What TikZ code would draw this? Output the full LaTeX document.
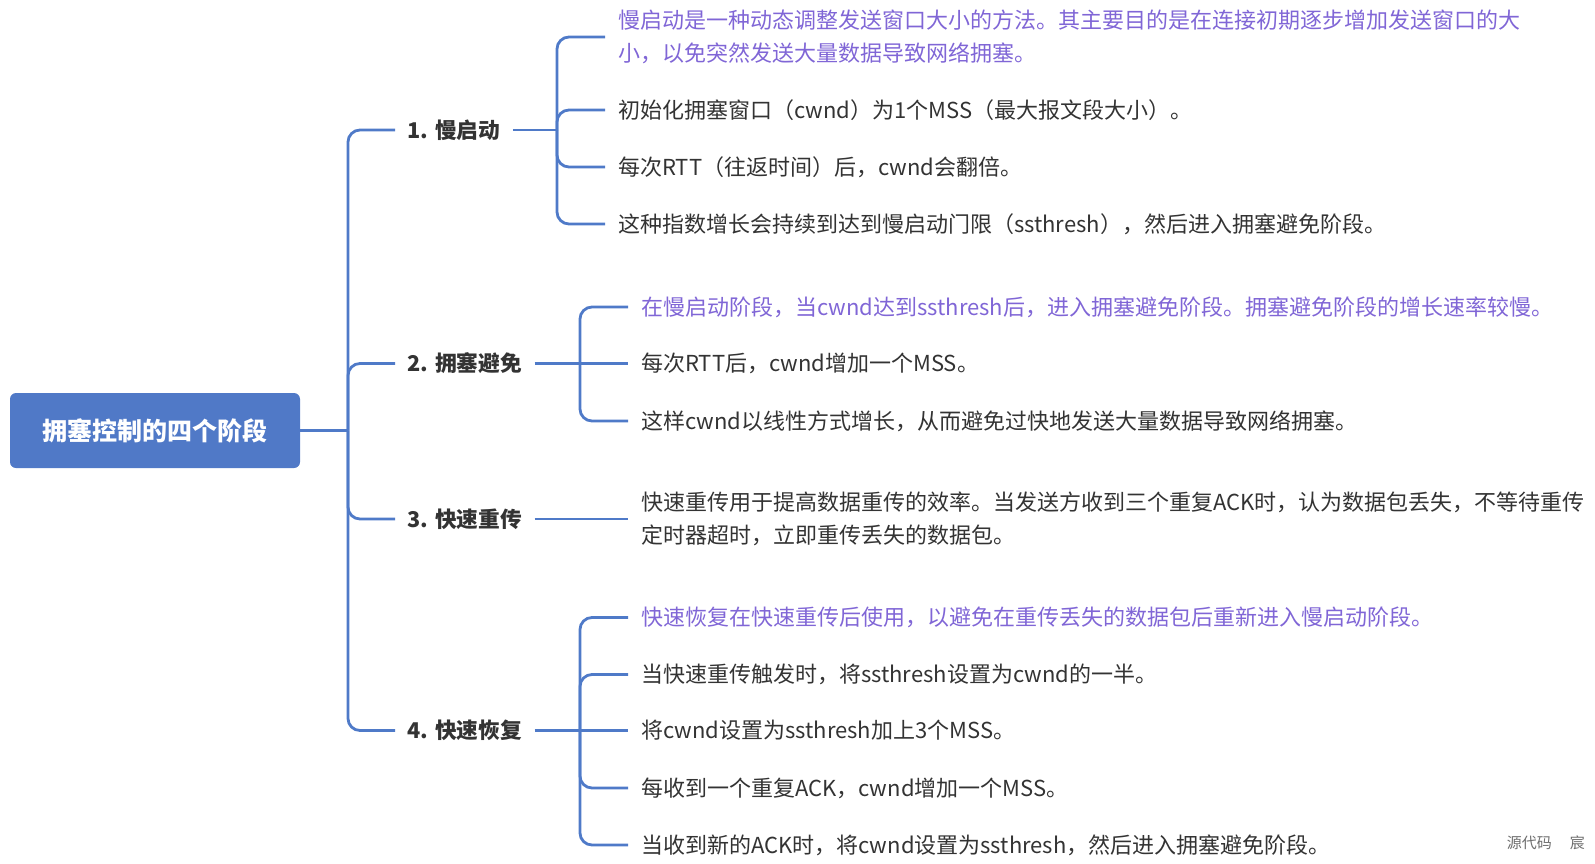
\documentclass[tikz,border=0pt]{standalone}
\usepackage{fontspec}
\setmainfont{Noto Sans CJK SC}
\definecolor{lineblue}{RGB}{79,122,200}
\definecolor{rootblue}{RGB}{80,121,199}
\definecolor{purp}{RGB}{128,102,214}
\definecolor{txt}{RGB}{51,51,51}
\definecolor{wmgray}{RGB}{110,110,110}
\begin{document}
\begin{tikzpicture}[x=1pt,y=-1pt,
  conn/.style={draw=lineblue,line width=2.8pt,rounded corners=12pt},
  rootbox/.style={fill=rootblue,rounded corners=6pt,minimum width=290pt,minimum height=75pt,text=white,font=\fontsize{25}{30}\selectfont\bfseries,inner sep=0pt},
  branch/.style={anchor=west,inner xsep=12.5pt,inner ysep=0pt,text=txt,font=\fontsize{21.7}{28}\selectfont\bfseries},
  leaf/.style={anchor=west,inner xsep=13pt,inner ysep=0pt,text=txt,align=left,font=\fontsize{22}{33}\selectfont},
  hl/.style={text=purp}]
\useasboundingbox (0,0) rectangle (1595,863);

% root
\node[rootbox] (root) at (155,430.5) {拥塞控制的四个阶段};

% junctions
\coordinate (j0) at (348,430.5);
\coordinate (j1) at (557,130);
\coordinate (j2) at (580,363.5);
\coordinate (j4) at (580,730.5);

% branches
\node[branch] (b1) at (395,130) {1. 慢启动};
\node[branch] (b2) at (395,363.5) {2. 拥塞避免};
\node[branch] (b3) at (395,519) {3. 快速重传};
\node[branch] (b4) at (395,730.5) {4. 快速恢复};

% leaves of branch 1
\node[leaf,hl] (l11) at (605,37) {慢启动是一种动态调整发送窗口大小的方法。其主要目的是在连接初期逐步增加发送窗口的大\\小，以免突然发送大量数据导致网络拥塞。};
\node[leaf] (l12) at (605,110) {初始化拥塞窗口（cwnd）为1个MSS（最大报文段大小）。};
\node[leaf] (l13) at (605,167) {每次RTT（往返时间）后，cwnd会翻倍。};
\node[leaf] (l14) at (605,224) {这种指数增长会持续到达到慢启动门限（ssthresh），然后进入拥塞避免阶段。};

% leaves of branch 2
\node[leaf,hl] (l21) at (628,307) {在慢启动阶段，当cwnd达到ssthresh后，进入拥塞避免阶段。拥塞避免阶段的增长速率较慢。};
\node[leaf] (l22) at (628,363.5) {每次RTT后，cwnd增加一个MSS。};
\node[leaf] (l23) at (628,421) {这样cwnd以线性方式增长，从而避免过快地发送大量数据导致网络拥塞。};

% leaf of branch 3
\node[leaf] (l31) at (628,519) {快速重传用于提高数据重传的效率。当发送方收到三个重复ACK时，认为数据包丢失，不等待重传\\定时器超时，立即重传丢失的数据包。};

% leaves of branch 4
\node[leaf,hl] (l41) at (628,617.5) {快速恢复在快速重传后使用，以避免在重传丢失的数据包后重新进入慢启动阶段。};
\node[leaf] (l42) at (628,674.5) {当快速重传触发时，将ssthresh设置为cwnd的一半。};
\node[leaf] (l43) at (628,730.5) {将cwnd设置为ssthresh加上3个MSS。};
\node[leaf] (l44) at (628,788) {每收到一个重复ACK，cwnd增加一个MSS。};
\node[leaf] (l45) at (628,845) {当收到新的ACK时，将cwnd设置为ssthresh，然后进入拥塞避免阶段。};

% watermark
\node[text=wmgray,font=\fontsize{15}{17}\selectfont,anchor=east,inner sep=0pt] (wm) at (1585,843) {源代码\hspace{18pt}宸};

% connectors
\draw[conn] (root.east) -- (j0);
\draw[conn] (j0) |- (b1.west);
\draw[conn] (j0) |- (b2.west);
\draw[conn] (j0) |- (b3.west);
\draw[conn] (j0) |- (b4.west);

\draw[conn] (b1.east) -- (j1);
\draw[conn] (j1) |- (l11.west);
\draw[conn] (j1) |- (l12.west);
\draw[conn] (j1) |- (l13.west);
\draw[conn] (j1) |- (l14.west);

\draw[conn] (b2.east) -- (j2);
\draw[conn] (j2) |- (l21.west);
\draw[conn] (j2) -- (l22.west);
\draw[conn] (j2) |- (l23.west);

\draw[conn] (b3.east) -- (l31.west);

\draw[conn] (b4.east) -- (j4);
\draw[conn] (j4) |- (l41.west);
\draw[conn] (j4) |- (l42.west);
\draw[conn] (j4) -- (l43.west);
\draw[conn] (j4) |- (l44.west);
\draw[conn] (j4) |- (l45.west);
\end{tikzpicture}
\end{document}
